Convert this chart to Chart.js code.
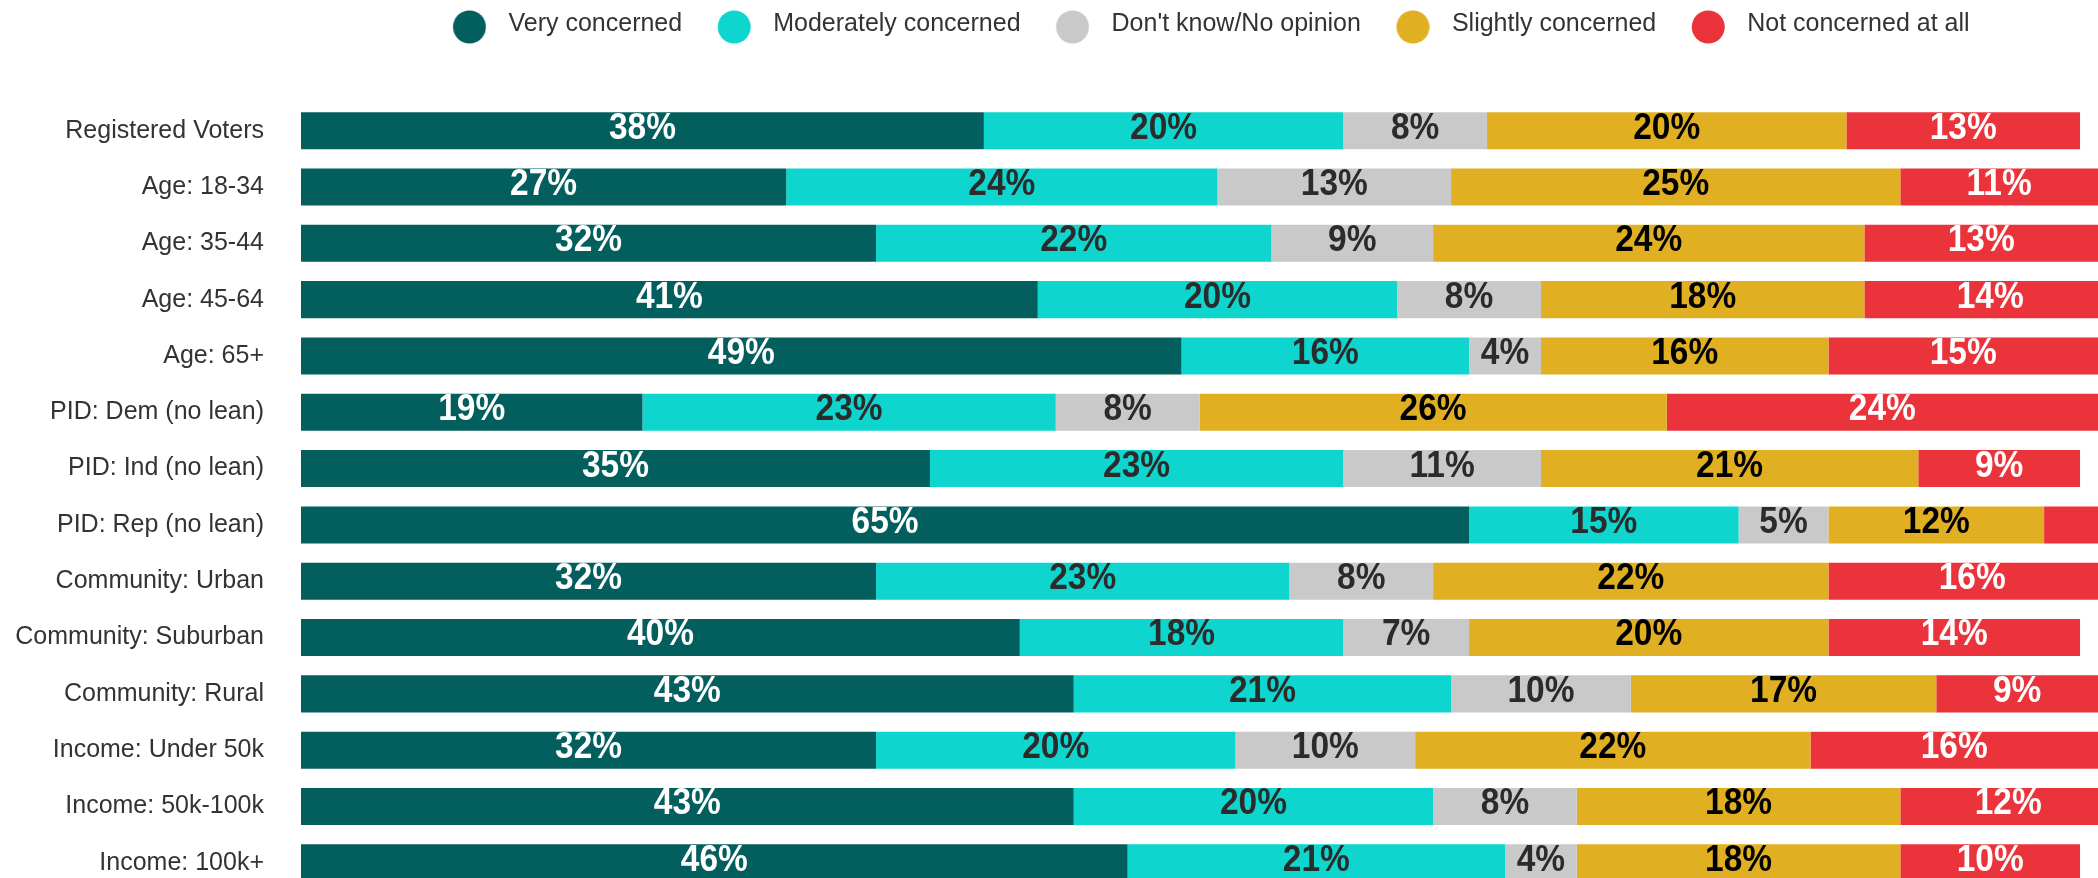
<!DOCTYPE html>
<html>
<head>
<meta charset="utf-8">
<script src="https://cdn.jsdelivr.net/npm/chart.js@4.4.1/dist/chart.umd.min.js"></script>
<style>
  html, body { margin: 0; padding: 0; background: #fff; overflow: hidden; }
  canvas { display: block; }
</style>
</head>
<body>
<canvas id="chart" width="2098" height="891"></canvas>
<script>
(() => {
  'use strict'

  const groups = [
    'Registered Voters', 'Age: 18-34', 'Age: 35-44', 'Age: 45-64', 'Age: 65+',
    'PID: Dem (no lean)', 'PID: Ind (no lean)', 'PID: Rep (no lean)',
    'Community: Urban', 'Community: Suburban', 'Community: Rural',
    'Income: Under 50k', 'Income: 50k-100k', 'Income: 100k+'
  ]

  const answers = ['Very concerned', 'Moderately concerned', "Don't know/No opinion", 'Slightly concerned', 'Not concerned at all']

  const veryConcerned = [38, 27, 32, 41, 49, 19, 35, 65, 32, 40, 43, 32, 43, 46]
  const moderatelyConcerned = [20, 24, 22, 20, 16, 23, 23, 15, 23, 18, 21, 20, 20, 21]
  const noOpinion = [8, 13, 9, 8, 4, 8, 11, 5, 8, 7, 10, 10, 8, 4]
  const slightlyConcerned = [20, 25, 24, 18, 16, 26, 21, 12, 22, 20, 17, 22, 18, 18]
  const notConcerned = [13, 11, 13, 14, 15, 24, 9, 3, 16, 14, 9, 16, 12, 10]

  const series = [veryConcerned, moderatelyConcerned, noOpinion, slightlyConcerned, notConcerned]
  const colors = ['#035f5e', '#0ed6ce', '#c9c9c9', '#e1b022', '#ea333a']
  const textColors = ['#ffffff', '#2b2b2b', '#2b2b2b', '#000000', '#ffffff']

  const fontFamily = '"Liberation Sans", Arial, Helvetica, sans-serif'

  // round legend markers, nudged right/down inside their box
  function dot(color) {
    const c = document.createElement('canvas')
    c.width = 47
    c.height = 39
    const g = c.getContext('2d')
    g.fillStyle = color
    g.beginPath()
    g.arc(30.25, 22, 16.5, 0, Math.PI * 2)
    g.fill()
    return c
  }
  const dots = colors.map(dot)

  // percentage written in the middle of each segment (tiny ones are skipped)
  const segmentLabels = {
    id: 'segmentLabels',
    afterDatasetsDraw(chart) {
      const { ctx } = chart
      ctx.save()
      ctx.font = 'bold 36px ' + fontFamily
      ctx.textAlign = 'center'
      ctx.textBaseline = 'middle'
      chart.data.datasets.forEach((ds, i) => {
        chart.getDatasetMeta(i).data.forEach((bar, j) => {
          const v = ds.data[j]
          if (v < 4) return
          ctx.fillStyle = textColors[i]
          ctx.save()
          ctx.translate((bar.x + bar.base) / 2, bar.y - 2)
          ctx.scale(0.93, 1)
          ctx.fillText(v + '%', 0, 0)
          ctx.restore()
        })
      })
      ctx.restore()
    }
  }

  new Chart(document.getElementById('chart'), {
    type: 'bar',
    data: {
      labels: groups,
      datasets: series.map((data, i) => ({
        label: answers[i],
        data,
        backgroundColor: colors[i],
        borderWidth: 0,
        categoryPercentage: 1,
        barPercentage: 0.657
      }))
    },
    options: {
      indexAxis: 'y',
      responsive: false,
      animation: false,
      layout: { padding: 0 },
      plugins: {
        legend: {
          position: 'top',
          fullSize: false,
          labels: {
            usePointStyle: true,
            pointStyleWidth: 66.5,
            padding: 12,
            color: '#333',
            font: { size: 25, family: fontFamily },
            generateLabels(chart) {
              const items = Chart.defaults.plugins.legend.labels.generateLabels(chart)
              items.forEach((item, i) => { item.pointStyle = dots[i] })
              return items
            }
          }
        },
        tooltip: { enabled: true }
      },
      scales: {
        x: {
          stacked: true,
          min: 0,
          max: 100,
          position: 'top',
          ticks: { display: false },
          grid: { display: false },
          border: { display: false },
          afterFit(scale) { scale.height = 55.5 }
        },
        y: {
          stacked: true,
          ticks: { color: '#333', padding: 37, font: { size: 25, family: fontFamily } },
          grid: { display: false, drawTicks: false },
          border: { display: false },
          afterFit(scale) {
            scale.width = 301
            // tick padding would otherwise leave a blank strip under the last bar
            scale.paddingTop = 0
            scale.paddingBottom = 0
          }
        }
      }
    },
    plugins: [segmentLabels]
  })
})()
</script>
</body>
</html>
